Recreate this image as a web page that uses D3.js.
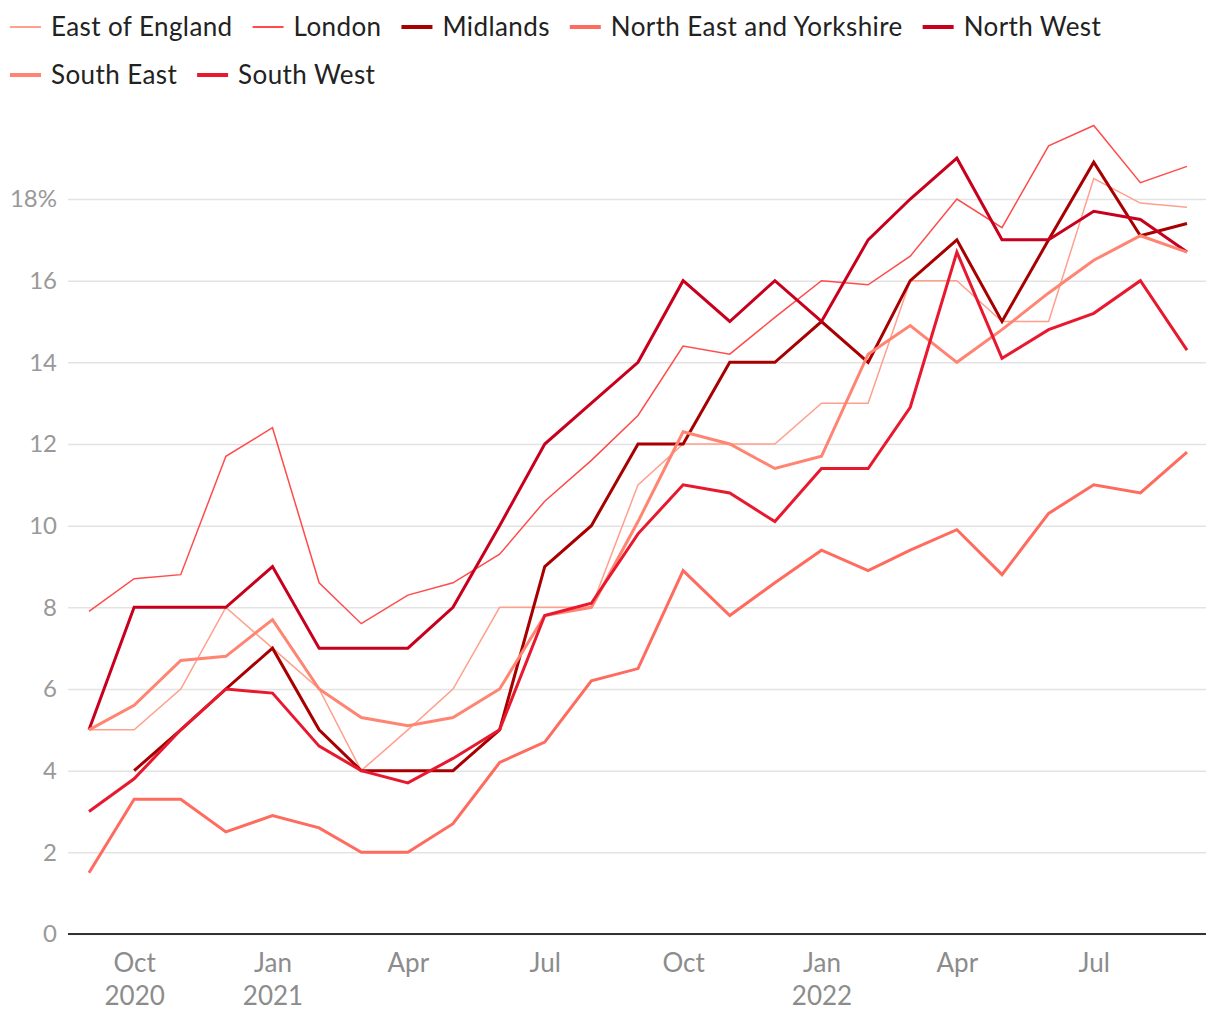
<!DOCTYPE html>
<html>
<head>
<meta charset="utf-8">
<script src="https://cdn.jsdelivr.net/npm/d3@7"></script>
<style>
  body { margin: 0; background: #fff; }
  text { font-family: Lato, "Open Sans", sans-serif; }
</style>
</head>
<body>
<div id="chart"></div>
<script>
var months = ["2020-09", "2020-10", "2020-11", "2020-12", "2021-01", "2021-02", "2021-03", "2021-04",
  "2021-05", "2021-06", "2021-07", "2021-08", "2021-09", "2021-10", "2021-11", "2021-12",
  "2022-01", "2022-02", "2022-03", "2022-04", "2022-05", "2022-06", "2022-07", "2022-08", "2022-09"]

var regions = ["East of England", "London", "Midlands", "North East and Yorkshire", "North West", "South East", "South West"]

var eastOfEngland = [5, 5, 6, 8, 7, 6, 4, 5, 6, 8, 8, 8, 11, 12, 12, 12, 13, 13, 16, 16, 15, 15, 18.5, 17.9, 17.8]
var london = [7.9, 8.7, 8.8, 11.7, 12.4, 8.6, 7.6, 8.3, 8.6, 9.3, 10.6, 11.6, 12.7, 14.4, 14.2, 15.1, 16.0, 15.9, 16.6, 18.0, 17.3, 19.3, 19.8, 18.4, 18.8]
var midlands = [null, 4, 5, 6, 7, 5, 4, 4, 4, 5, 9, 10, 12, 12, 14, 14, 15, 14, 16, 17, 15, 17, 18.9, 17.1, 17.4]
var northEastYorkshire = [1.5, 3.3, 3.3, 2.5, 2.9, 2.6, 2.0, 2.0, 2.7, 4.2, 4.7, 6.2, 6.5, 8.9, 7.8, 8.6, 9.4, 8.9, 9.4, 9.9, 8.8, 10.3, 11.0, 10.8, 11.8]
var northWest = [5, 8, 8, 8, 9, 7, 7, 7, 8, 10, 12, 13, 14, 16, 15, 16, 15, 17, 18, 19, 17, 17, 17.7, 17.5, 16.7]
var southEast = [5, 5.6, 6.7, 6.8, 7.7, 6, 5.3, 5.1, 5.3, 6, 7.8, 8, 10.1, 12.3, 12, 11.4, 11.7, 14.2, 14.9, 14, 14.8, 15.7, 16.5, 17.1, 16.7]
var southWest = [3, 3.8, 5, 6, 5.9, 4.6, 4, 3.7, 4.3, 5, 7.8, 8.1, 9.8, 11, 10.8, 10.1, 11.4, 11.4, 12.9, 16.7, 14.1, 14.8, 15.2, 16, 14.3]

var yTicks = [0, 2, 4, 6, 8, 10, 12, 14, 16, 18]
var xTicks = ["2020-10", "2021-01", "2021-04", "2021-07", "2021-10", "2022-01", "2022-04", "2022-07"]
var xTickLabels = [["Oct", "2020"], ["Jan", "2021"], ["Apr", ""], ["Jul", ""], ["Oct", ""], ["Jan", "2022"], ["Apr", ""], ["Jul", ""]]

var seriesValues = [eastOfEngland, london, midlands, northEastYorkshire, northWest, southEast, southWest]
var colors = ["#ffa08c", "#ff4b4b", "#a80000", "#ff6b5e", "#c8001e", "#ff8572", "#e8192f"]
var widths = [1.5, 1.5, 3, 3, 3, 3, 3]

;(function() {
  var width = 1220,
      height = 1020

  var parseMonth = d3.utcParse("%Y-%m")

  var svg = d3.select("#chart")
    .append("svg")
    .attr("width", width)
    .attr("height", height)

  var x = d3.scaleUtc()
    .domain([parseMonth(months[0]), parseMonth(months[months.length - 1])])
    .range([89, 1187])

  var y = d3.scaleLinear()
    .domain([0, 18])
    .range([934, 199])

  // gridlines + y labels
  var yAxis = svg.append("g")
    .attr("transform", "translate(68,0)")
    .call(d3.axisLeft(y)
      .tickValues(yTicks)
      .tickSize(-1138)
      .tickPadding(11)
      .tickFormat(function(d) { return d === 18 ? d + "%" : d }))
  yAxis.select(".domain").remove()
  yAxis.selectAll(".tick line")
    .attr("stroke", "#e3e3e3")
    .attr("stroke-width", 1.5)
  yAxis.selectAll(".tick text")
    .attr("fill", "#999")
    .attr("font-size", 24)
    .attr("font-family", "Lato, sans-serif")

  // x axis
  var xAxis = svg.append("g")
    .attr("transform", "translate(0,934)")
    .call(d3.axisBottom(x)
      .tickValues(xTicks.map(parseMonth))
      .tickSize(0)
      .tickFormat(""))
  xAxis.select(".domain").remove()

  xAxis.selectAll(".tick").each(function(d, i) {
    var t = d3.select(this).append("text")
      .attr("fill", "#8c8c8c")
      .attr("font-size", 26)
      .attr("font-family", "Lato, sans-serif")
      .attr("text-anchor", "middle")
    t.append("tspan").attr("x", 0).attr("y", 38).text(xTickLabels[i][0])
    t.append("tspan").attr("x", 0).attr("y", 71).text(xTickLabels[i][1])
  })

  svg.append("line")
    .attr("x1", 68)
    .attr("x2", 1206)
    .attr("y1", y(0))
    .attr("y2", y(0))
    .attr("stroke", "#333")
    .attr("stroke-width", 2)

  // lines
  var line = d3.line()
    .defined(function(d) { return d.value !== null })
    .x(function(d) { return x(d.date) })
    .y(function(d) { return y(d.value) })

  var series = regions.map(function(name, i) {
    return {
      name: name,
      color: colors[i],
      width: widths[i],
      points: seriesValues[i].map(function(v, j) {
        return { date: parseMonth(months[j]), value: v }
      })
    }
  })

  svg.append("g").selectAll("path")
    .data(series)
    .enter().append("path")
    .attr("d", function(d) { return line(d.points) })
    .attr("fill", "none")
    .attr("stroke", function(d) { return d.color })
    .attr("stroke-width", function(d) { return d.width })
    .attr("stroke-linejoin", "miter")

  // legend, two rows
  var rows = [[0, 1, 2, 3, 4], [5, 6]]
  var legend = svg.append("g")
  rows.forEach(function(row, r) {
    var xPos = 10
    var yPos = 27 + r * 48
    row.forEach(function(i) {
      var item = legend.append("g").attr("transform", "translate(" + xPos + "," + yPos + ")")
      item.append("line")
        .attr("x1", 0)
        .attr("x2", 31)
        .attr("stroke", colors[i])
        .attr("stroke-width", widths[i] === 3 ? 4 : 2)
      var label = item.append("text")
        .attr("x", 41)
        .attr("dy", "0.35em")
        .attr("fill", "#222")
        .attr("font-size", 26)
        .attr("letter-spacing", 0.4)
        .text(regions[i])
      xPos += 41 + label.node().getComputedTextLength() + 20
    })
  })
})()
</script>
</body>
</html>
